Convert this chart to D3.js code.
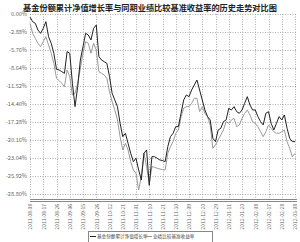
<!DOCTYPE html>
<html>
<head>
<meta charset="utf-8">
<script src="https://cdn.jsdelivr.net/npm/d3@7"></script>
<style>
  body { margin: 0; background: #fff; }
  svg { display: block; }
  text { font-family: "Noto Sans CJK SC", "Noto Sans", sans-serif; }
</style>
</head>
<body>
<svg id="chart"></svg>
<script>
// 基金净值 (%), 5 points per date tick
var fundValues = [
  -0.5, -1.23, -1.5, -2.57, -3.1, -2.3, -1.23, -3.64, -4.7, -6.31,
  -8.88, -8.98, -9.25, -9.52, -6.04, -6.31, -11.12, -14.86, -11.66, -7.38,
  -5.24, -3.1, -3.37, -4.17, -2.3, -1.76, -6.84, -7.38, -7.65, -7.91,
  -10.05, -12.73, -13.79, -14.86, -17.54, -19.68, -19.14, -20.75, -22.35, -23.69,
  -23.15, -25.02, -26.63, -22.35, -21.82, -27.5, -22.89, -22.89, -23.15, -23.42,
  -23.52, -23.69, -21.28, -19.68, -19.14, -18.07, -18.07, -15.93, -13.79, -12.99,
  -13.26, -12.19, -11.39, -10.59, -12.19, -13.79, -15.4, -16.47, -17.0, -19.94,
  -20.48, -18.61, -18.34, -17.27, -17.0, -15.13, -15.4, -14.86, -15.67, -15.93,
  -15.4, -14.33, -13.26, -14.6, -15.4, -15.4, -16.47, -17.27, -17.8, -15.93,
  -15.67, -17.54, -18.61, -17.54, -16.47, -17.0, -16.2, -18.34, -19.94, -20.48,
  -20.48
];
// 业绩比较基准 (%)
var benchValues = [
  -1.5, -3.1, -3.9, -4.7, -5.24, -4.44, -3.64, -4.97, -6.31, -7.91,
  -10.32, -10.69, -11.12, -11.66, -8.98, -10.05, -12.99, -12.73, -11.12, -8.71,
  -6.31, -4.44, -4.7, -6.31, -4.7, -5.77, -9.25, -9.52, -9.78, -10.32,
  -12.46, -14.06, -15.4, -17.0, -19.68, -21.82, -20.75, -21.82, -23.69, -25.02,
  -25.56, -28.23, -26.09, -22.35, -24.49, -27.16, -24.49, -24.6, -24.76, -24.86,
  -24.97, -25.02, -22.35, -21.28, -20.48, -19.14, -18.61, -16.47, -15.13, -14.86,
  -14.86, -14.33, -13.53, -13.53, -15.67, -14.86, -15.93, -16.47, -17.8, -21.55,
  -21.01, -20.21, -19.41, -18.61, -17.27, -17.54, -17.0, -16.74, -18.07, -17.8,
  -16.74, -15.93, -15.4, -16.2, -17.27, -17.54, -18.07, -18.88, -19.68, -18.88,
  -17.8, -18.34, -18.88, -19.14, -19.14, -18.88, -18.61, -20.48, -21.55, -22.89,
  -22.35
];
var dateLabels = [
  "2011-08-08", "2011-08-17", "2011-08-26", "2011-09-06", "2011-09-15",
  "2011-09-26", "2011-10-12", "2011-10-21", "2011-11-01", "2011-11-10",
  "2011-11-21", "2011-11-30", "2011-12-09", "2011-12-20", "2011-12-29",
  "2012-01-11", "2012-01-20", "2012-02-08", "2012-02-17", "2012-02-28",
  "2012-03-08"
];
var yTicks = [0, -2.88, -5.76, -8.64, -11.52, -14.4, -17.28, -20.16, -23.04, -25.92, -28.8];
var title = "基金份额累计净值增长率与同期业绩比较基准收益率的历史走势对比图";
var legendNames = ["基金份额累计净值增长率", "业绩比较基准收益率"];

var width = 300, height = 242;
var plotLeft = 30, plotRight = 297, plotTop = 14, plotBottom = 199;
var ptsPerTick = 5;

var svg = d3.select("#chart").attr("width", width).attr("height", height);

var x = d3.scaleLinear().domain([0, fundValues.length - 1]).range([plotLeft, 295]);
var y = d3.scaleLinear().domain([0, -28.8]).range([plotTop, 193.5]);

// title
svg.append("text")
  .attr("x", 150).attr("y", 11)
  .attr("text-anchor", "middle")
  .attr("font-size", "8.2px").attr("font-weight", "bold")
  .attr("fill", "#222")
  .text(title);

// horizontal grid + y labels
svg.append("g").selectAll("line").data(yTicks).enter().append("line")
  .attr("x1", plotLeft).attr("x2", plotRight)
  .attr("y1", function(d) { return Math.round(y(d)) + 0.5; })
  .attr("y2", function(d) { return Math.round(y(d)) + 0.5; })
  .attr("stroke", "#999").attr("stroke-width", 0.8)
  .attr("stroke-dasharray", "1,1.5");

svg.append("g").selectAll("text").data(yTicks).enter().append("text")
  .attr("x", 27).attr("y", function(d) { return y(d) + 2; })
  .attr("text-anchor", "end")
  .attr("font-size", "5.6px").attr("fill", "#666")
  .text(function(d) { return d.toFixed(2) + "%"; });

// vertical grid
var tickIdx = dateLabels.map(function(d, i) { return i * ptsPerTick; });
svg.append("g").selectAll("line").data(tickIdx).enter().append("line")
  .attr("x1", function(d) { return Math.round(x(d)) + 0.5; })
  .attr("x2", function(d) { return Math.round(x(d)) + 0.5; })
  .attr("y1", plotTop).attr("y2", plotBottom)
  .attr("stroke", "#999").attr("stroke-width", 0.8)
  .attr("stroke-dasharray", "1,1.5");

// x axis labels (rotated)
var xAxis = d3.axisBottom(x)
  .tickValues(tickIdx)
  .tickSize(0)
  .tickFormat(function(d, i) { return dateLabels[i]; });
var gx = svg.append("g")
  .attr("transform", "translate(0," + plotBottom + ")")
  .call(xAxis);
gx.select(".domain").remove();
gx.selectAll("text")
  .attr("font-size", "5px").attr("fill", "#666")
  .attr("text-anchor", "end")
  .attr("transform", "rotate(-90)")
  .attr("dy", "0.35em").attr("x", -5).attr("y", 0);

// bottom double line
[plotBottom + 0.5, plotBottom + 2.5].forEach(function(yy) {
  svg.append("line")
    .attr("x1", plotLeft).attr("x2", plotRight)
    .attr("y1", yy).attr("y2", yy)
    .attr("stroke", "#888").attr("stroke-width", 1);
});

var line = d3.line()
  .x(function(d, i) { return x(i); })
  .y(function(d) { return y(d); });

svg.append("path").datum(benchValues)
  .attr("d", line).attr("fill", "none")
  .attr("stroke", "#9a9a9a").attr("stroke-width", 1);

svg.append("path").datum(fundValues)
  .attr("d", line).attr("fill", "none")
  .attr("stroke", "#222").attr("stroke-width", 1);

// legend
var lg = svg.append("g");
lg.append("rect")
  .attr("x", 88.5).attr("y", 231.5).attr("width", 124).attr("height", 14)
  .attr("fill", "#fff").attr("stroke", "#888").attr("stroke-width", 1);
lg.append("line").attr("x1", 90).attr("x2", 96).attr("y1", 236.5).attr("y2", 236.5)
  .attr("stroke", "#222").attr("stroke-width", 1);
lg.append("text").attr("x", 97).attr("y", 238.3)
  .attr("font-size", "4.6px").attr("fill", "#444").text(legendNames[0]);
lg.append("line").attr("x1", 145).attr("x2", 152).attr("y1", 236.5).attr("y2", 236.5)
  .attr("stroke", "#9a9a9a").attr("stroke-width", 1);
lg.append("text").attr("x", 153).attr("y", 238.3)
  .attr("font-size", "4.6px").attr("fill", "#444").text(legendNames[1]);
</script>
</body>
</html>
